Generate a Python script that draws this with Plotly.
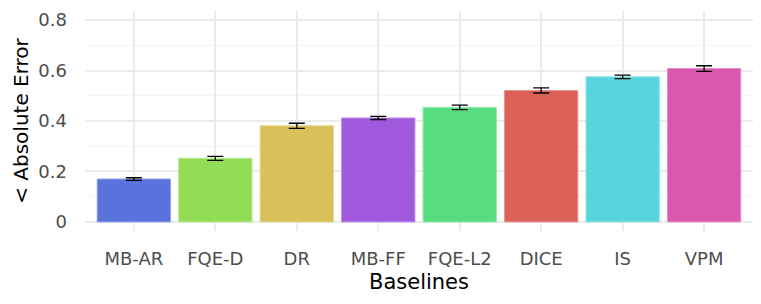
import plotly.graph_objects as go

categories = ["MB-AR", "FQE-D", "DR", "MB-FF", "FQE-L2", "DICE", "IS", "VPM"]
values = [0.170, 0.252, 0.381, 0.412, 0.454, 0.521, 0.575, 0.608]
errors = [0.005, 0.008, 0.010, 0.006, 0.009, 0.010, 0.007, 0.011]
colors = ["#5a73dc", "#93dc56", "#d9c159", "#a058dc", "#58dc80", "#dc6158", "#58d4dc", "#dc58b0"]
outline = ["#8fa0e8", "#b6e893", "#e6d493", "#bf8fe8", "#8fe8a8", "#e8948f", "#8fe3e8", "#e88fca"]
ytick_vals = [0, 0.2, 0.4, 0.6, 0.8]
ytick_text = ["0", "0.2", "0.4", "0.6", "0.8"]

fig = go.Figure()
fig.add_trace(go.Bar(
    x=categories, y=values, width=0.9,
    marker=dict(color=colors, line=dict(color=outline, width=1)),
    error_y=dict(type="data", array=errors, color="black", thickness=1.3, width=8),
    showlegend=False,
))

fig.update_layout(
    width=761, height=304,
    margin=dict(l=77, r=16, t=3, b=81, autoexpand=False),
    plot_bgcolor="white", paper_bgcolor="white",
    font=dict(family="DejaVu Sans", size=18, color="#4d4d4d"),
    bargap=0.1,
)
fig.update_xaxes(
    title=dict(text="Baselines", font=dict(size=21, color="black"), standoff=6),
    range=[-0.6, 7.6], showgrid=True, gridcolor="#ebebeb", gridwidth=1.5,
    zeroline=False, ticks="", tickfont=dict(size=18, color="#4d4d4d"),
    ticklabelstandoff=15, automargin=False,
)
fig.update_yaxes(
    title=dict(text="< Absolute Error", font=dict(size=20, color="black"), standoff=4),
    range=[-0.036, 0.836], tickvals=ytick_vals, ticktext=ytick_text,
    showgrid=True, gridcolor="#ebebeb", gridwidth=1.5, zeroline=False,
    minor=dict(dtick=0.1, tick0=0, showgrid=True, gridcolor="#f5f5f5", gridwidth=1),
    tickfont=dict(size=18, color="#4d4d4d"), ticks="", ticklabelstandoff=17,
    automargin=False,
)

fig.write_html("out.html")
